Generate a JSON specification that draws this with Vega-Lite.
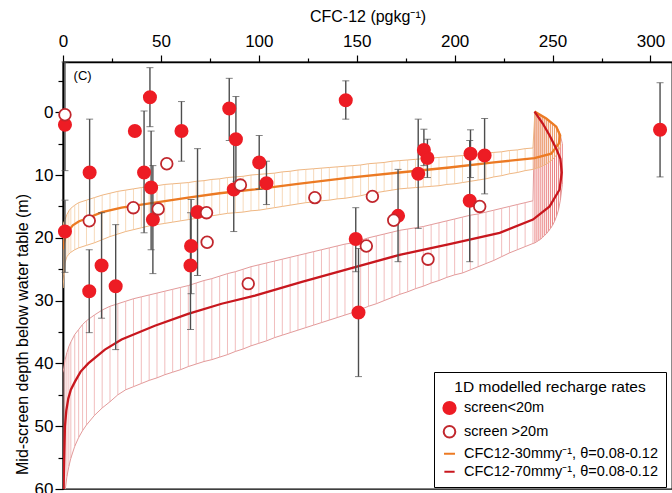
{
"$schema": "https://vega.github.io/schema/vega-lite/v6.json",
"width": 609, "height": 427,
"autosize": {"type": "none"},
"padding": {"left": 63, "top": 62, "right": 0, "bottom": 4},
"config": {
  "font": "Liberation Sans",
  "view": {"stroke": "#000", "strokeWidth": 1.3},
  "legend": {"orient": "none", "legendX": 371, "legendY": 310, "padding": 8, "strokeColor": "#000", "fillColor": "#fff", "titleFontSize": 15.5, "titleFontWeight": "normal", "titleAnchor": "middle", "titleColor": "#000", "titleLimit": 400, "labelFontSize": 14.5, "labelColor": "#000", "symbolStrokeWidth": 2, "rowPadding": 3, "titlePadding": 5, "labelLimit": 300, "labelOffset": 7, "cornerRadius": 0}
},
"datasets": {
  "pts": [
    {"c":1.0,"depth":2.0,"series":"screen<20m","lo":-8,"hi":9.3},
    {"c":1.0,"depth":19.0,"series":"screen<20m","lo":14.0,"hi":25.5},
    {"c":13.6,"depth":9.6,"series":"screen<20m","lo":1.1,"hi":17.9},
    {"c":13.4,"depth":28.5,"series":"screen<20m","lo":21.9,"hi":35.1},
    {"c":19.7,"depth":24.4,"series":"screen<20m","lo":16.0,"hi":32.8},
    {"c":26.9,"depth":27.7,"series":"screen<20m","lo":17.9,"hi":37.8},
    {"c":36.7,"depth":3.0,"series":"screen<20m","lo":null,"hi":null},
    {"c":44.4,"depth":-2.4,"series":"screen<20m","lo":-7.1,"hi":2.3},
    {"c":60.5,"depth":3.0,"series":"screen<20m","lo":-1.7,"hi":7.8},
    {"c":84.9,"depth":-0.6,"series":"screen<20m","lo":-5.4,"hi":4.5},
    {"c":88.3,"depth":4.3,"series":"screen<20m","lo":-2.5,"hi":11.0},
    {"c":87.2,"depth":12.3,"series":"screen<20m","lo":4.0,"hi":19.0},
    {"c":41.4,"depth":9.6,"series":"screen<20m","lo":-0.2,"hi":19.2},
    {"c":45.0,"depth":12.0,"series":"screen<20m","lo":3.0,"hi":21.9},
    {"c":45.9,"depth":17.1,"series":"screen<20m","lo":8.5,"hi":25.7},
    {"c":68.7,"depth":15.9,"series":"screen<20m","lo":5.8,"hi":26.0},
    {"c":65.4,"depth":21.3,"series":"screen<20m","lo":13.9,"hi":28.9},
    {"c":65.1,"depth":24.4,"series":"screen<20m","lo":16.0,"hi":34.6},
    {"c":100.2,"depth":8.0,"series":"screen<20m","lo":3.7,"hi":12.3},
    {"c":103.9,"depth":11.3,"series":"screen<20m","lo":7.8,"hi":14.7},
    {"c":144.4,"depth":-1.9,"series":"screen<20m","lo":-5.0,"hi":1.1},
    {"c":149.5,"depth":20.2,"series":"screen<20m","lo":15.2,"hi":25.4},
    {"c":150.9,"depth":31.9,"series":"screen<20m","lo":21.7,"hi":42.1},
    {"c":171.1,"depth":16.5,"series":"screen<20m","lo":9.1,"hi":23.8},
    {"c":181.4,"depth":9.8,"series":"screen<20m","lo":1.1,"hi":18.5},
    {"c":184.3,"depth":6.0,"series":"screen<20m","lo":2.7,"hi":8.5},
    {"c":186.1,"depth":7.3,"series":"screen<20m","lo":4.3,"hi":10.4},
    {"c":208.1,"depth":6.6,"series":"screen<20m","lo":2.8,"hi":10.4},
    {"c":207.7,"depth":14.1,"series":"screen<20m","lo":4.5,"hi":23.8},
    {"c":215.3,"depth":6.9,"series":"screen<20m","lo":1.0,"hi":13.0},
    {"c":304.9,"depth":2.8,"series":"screen<20m","lo":-4.7,"hi":10.3},
    {"c":1.0,"depth":0.4,"series":"screen >20m","lo":null,"hi":null},
    {"c":13.4,"depth":17.3,"series":"screen >20m","lo":null,"hi":null},
    {"c":35.9,"depth":15.2,"series":"screen >20m","lo":null,"hi":null},
    {"c":48.6,"depth":15.4,"series":"screen >20m","lo":null,"hi":null},
    {"c":53.0,"depth":8.2,"series":"screen >20m","lo":null,"hi":null},
    {"c":73.3,"depth":16.0,"series":"screen >20m","lo":null,"hi":null},
    {"c":73.6,"depth":20.7,"series":"screen >20m","lo":null,"hi":null},
    {"c":90.6,"depth":11.6,"series":"screen >20m","lo":null,"hi":null},
    {"c":94.6,"depth":27.3,"series":"screen >20m","lo":null,"hi":null},
    {"c":128.6,"depth":13.6,"series":"screen >20m","lo":null,"hi":null},
    {"c":158.0,"depth":13.4,"series":"screen >20m","lo":null,"hi":null},
    {"c":168.9,"depth":17.2,"series":"screen >20m","lo":null,"hi":null},
    {"c":154.9,"depth":21.3,"series":"screen >20m","lo":null,"hi":null},
    {"c":186.4,"depth":23.4,"series":"screen >20m","lo":null,"hi":null},
    {"c":212.8,"depth":15.0,"series":"screen >20m","lo":null,"hi":null}
  ],
  "curves": [
    {"c":0,"depth":21.8,"series":"CFC12-30mmy⁻¹, θ=0.08-0.12"},
    {"c":0.5,"depth":20.8,"series":"CFC12-30mmy⁻¹, θ=0.08-0.12"},
    {"c":1.0,"depth":20.1,"series":"CFC12-30mmy⁻¹, θ=0.08-0.12"},
    {"c":2.5,"depth":19.0,"series":"CFC12-30mmy⁻¹, θ=0.08-0.12"},
    {"c":5,"depth":18.0,"series":"CFC12-30mmy⁻¹, θ=0.08-0.12"},
    {"c":8,"depth":17.4,"series":"CFC12-30mmy⁻¹, θ=0.08-0.12"},
    {"c":12.9,"depth":16.8,"series":"CFC12-30mmy⁻¹, θ=0.08-0.12"},
    {"c":20,"depth":15.9,"series":"CFC12-30mmy⁻¹, θ=0.08-0.12"},
    {"c":29.9,"depth":15.2,"series":"CFC12-30mmy⁻¹, θ=0.08-0.12"},
    {"c":46.9,"depth":14.4,"series":"CFC12-30mmy⁻¹, θ=0.08-0.12"},
    {"c":63.9,"depth":13.6,"series":"CFC12-30mmy⁻¹, θ=0.08-0.12"},
    {"c":80,"depth":12.9,"series":"CFC12-30mmy⁻¹, θ=0.08-0.12"},
    {"c":98,"depth":12.3,"series":"CFC12-30mmy⁻¹, θ=0.08-0.12"},
    {"c":120,"depth":11.4,"series":"CFC12-30mmy⁻¹, θ=0.08-0.12"},
    {"c":146.4,"depth":10.4,"series":"CFC12-30mmy⁻¹, θ=0.08-0.12"},
    {"c":171.9,"depth":9.6,"series":"CFC12-30mmy⁻¹, θ=0.08-0.12"},
    {"c":197.4,"depth":8.8,"series":"CFC12-30mmy⁻¹, θ=0.08-0.12"},
    {"c":220,"depth":8.0,"series":"CFC12-30mmy⁻¹, θ=0.08-0.12"},
    {"c":240.8,"depth":7.3,"series":"CFC12-30mmy⁻¹, θ=0.08-0.12"},
    {"c":249.3,"depth":6.6,"series":"CFC12-30mmy⁻¹, θ=0.08-0.12"},
    {"c":253.2,"depth":5.0,"series":"CFC12-30mmy⁻¹, θ=0.08-0.12"},
    {"c":253.9,"depth":3.7,"series":"CFC12-30mmy⁻¹, θ=0.08-0.12"},
    {"c":251.9,"depth":2.3,"series":"CFC12-30mmy⁻¹, θ=0.08-0.12"},
    {"c":246.8,"depth":1.0,"series":"CFC12-30mmy⁻¹, θ=0.08-0.12"},
    {"c":240.8,"depth":-0.1,"series":"CFC12-30mmy⁻¹, θ=0.08-0.12"},
    {"c":0.2,"depth":61,"series":"CFC12-70mmy⁻¹, θ=0.08-0.12"},
    {"c":1.0,"depth":50.0,"series":"CFC12-70mmy⁻¹, θ=0.08-0.12"},
    {"c":1.7,"depth":47.5,"series":"CFC12-70mmy⁻¹, θ=0.08-0.12"},
    {"c":2.7,"depth":45.6,"series":"CFC12-70mmy⁻¹, θ=0.08-0.12"},
    {"c":4,"depth":44.2,"series":"CFC12-70mmy⁻¹, θ=0.08-0.12"},
    {"c":6.1,"depth":42.9,"series":"CFC12-70mmy⁻¹, θ=0.08-0.12"},
    {"c":9,"depth":41.3,"series":"CFC12-70mmy⁻¹, θ=0.08-0.12"},
    {"c":12.9,"depth":40.0,"series":"CFC12-70mmy⁻¹, θ=0.08-0.12"},
    {"c":21.4,"depth":37.8,"series":"CFC12-70mmy⁻¹, θ=0.08-0.12"},
    {"c":29.9,"depth":36.2,"series":"CFC12-70mmy⁻¹, θ=0.08-0.12"},
    {"c":46.9,"depth":34.0,"series":"CFC12-70mmy⁻¹, θ=0.08-0.12"},
    {"c":63.9,"depth":32.1,"series":"CFC12-70mmy⁻¹, θ=0.08-0.12"},
    {"c":81,"depth":30.5,"series":"CFC12-70mmy⁻¹, θ=0.08-0.12"},
    {"c":98,"depth":29.2,"series":"CFC12-70mmy⁻¹, θ=0.08-0.12"},
    {"c":122,"depth":27.0,"series":"CFC12-70mmy⁻¹, θ=0.08-0.12"},
    {"c":146.4,"depth":24.9,"series":"CFC12-70mmy⁻¹, θ=0.08-0.12"},
    {"c":171.9,"depth":22.7,"series":"CFC12-70mmy⁻¹, θ=0.08-0.12"},
    {"c":197.4,"depth":21.0,"series":"CFC12-70mmy⁻¹, θ=0.08-0.12"},
    {"c":223,"depth":19.2,"series":"CFC12-70mmy⁻¹, θ=0.08-0.12"},
    {"c":240,"depth":17.1,"series":"CFC12-70mmy⁻¹, θ=0.08-0.12"},
    {"c":248.5,"depth":15.0,"series":"CFC12-70mmy⁻¹, θ=0.08-0.12"},
    {"c":253.6,"depth":12.3,"series":"CFC12-70mmy⁻¹, θ=0.08-0.12"},
    {"c":254.7,"depth":9.6,"series":"CFC12-70mmy⁻¹, θ=0.08-0.12"},
    {"c":254.0,"depth":7.4,"series":"CFC12-70mmy⁻¹, θ=0.08-0.12"},
    {"c":251.9,"depth":5.8,"series":"CFC12-70mmy⁻¹, θ=0.08-0.12"},
    {"c":248.5,"depth":3.7,"series":"CFC12-70mmy⁻¹, θ=0.08-0.12"},
    {"c":245.0,"depth":1.8,"series":"CFC12-70mmy⁻¹, θ=0.08-0.12"},
    {"c":240.8,"depth":-0.1,"series":"CFC12-70mmy⁻¹, θ=0.08-0.12"}
  ],
  "ob": [
    {"c":0,"top":18.0,"bot":28.0},{"c":0.5,"top":17.5,"bot":26.0},{"c":1,"top":17.1,"bot":24.0},{"c":2,"top":16.3,"bot":23.0},{"c":3,"top":15.7,"bot":22.6},{"c":4,"top":15.3,"bot":22.3},{"c":6,"top":14.8,"bot":21.9},{"c":8,"top":14.4,"bot":21.6},{"c":12,"top":14.0,"bot":21.2},{"c":16,"top":13.6,"bot":20.8},{"c":20,"top":13.2,"bot":20.3},{"c":24,"top":12.9,"bot":19.8},{"c":28,"top":12.6,"bot":19.4},{"c":32,"top":12.4,"bot":19.0},{"c":36,"top":12.2,"bot":18.7},{"c":40,"top":12.0,"bot":18.4},{"c":44,"top":11.8,"bot":18.1},{"c":48,"top":11.7,"bot":17.9},{"c":52,"top":11.5,"bot":17.7},{"c":56,"top":11.4,"bot":17.5},{"c":60,"top":11.3,"bot":17.3},{"c":64,"top":11.2,"bot":17.1},{"c":68,"top":11.0,"bot":16.9},{"c":72,"top":10.9,"bot":16.7},{"c":76,"top":10.7,"bot":16.5},{"c":80,"top":10.6,"bot":16.3},{"c":84,"top":10.4,"bot":16.1},{"c":88,"top":10.3,"bot":16.0},{"c":92,"top":10.2,"bot":15.9},{"c":96,"top":10.0,"bot":15.7},{"c":100,"top":9.9,"bot":15.6},{"c":104,"top":9.8,"bot":15.4},{"c":108,"top":9.7,"bot":15.2},{"c":112,"top":9.5,"bot":15.0},{"c":116,"top":9.4,"bot":14.8},{"c":120,"top":9.2,"bot":14.6},{"c":124,"top":9.1,"bot":14.4},{"c":128,"top":9.0,"bot":14.3},{"c":132,"top":8.9,"bot":14.1},{"c":136,"top":8.8,"bot":14.0},{"c":140,"top":8.7,"bot":13.8},{"c":144,"top":8.6,"bot":13.7},{"c":148,"top":8.5,"bot":13.5},{"c":152,"top":8.4,"bot":13.3},{"c":156,"top":8.2,"bot":13.0},{"c":160,"top":8.1,"bot":12.8},{"c":164,"top":8.0,"bot":12.6},{"c":168,"top":7.8,"bot":12.4},{"c":172,"top":7.7,"bot":12.2},{"c":176,"top":7.6,"bot":12.1},{"c":180,"top":7.5,"bot":12.0},{"c":184,"top":7.4,"bot":11.9},{"c":188,"top":7.3,"bot":11.8},{"c":192,"top":7.2,"bot":11.7},{"c":196,"top":7.1,"bot":11.5},{"c":200,"top":7.0,"bot":11.4},{"c":204,"top":6.9,"bot":11.2},{"c":208,"top":6.8,"bot":11.0},{"c":212,"top":6.7,"bot":10.8},{"c":216,"top":6.5,"bot":10.6},{"c":220,"top":6.4,"bot":10.3},{"c":224,"top":6.3,"bot":10.1},{"c":228,"top":6.1,"bot":9.8},{"c":232,"top":6.0,"bot":9.6},{"c":236,"top":5.8,"bot":9.3},{"c":240,"top":5.7,"bot":9.1},
    {"c":241,"top":0.0,"bot":9.0},{"c":242,"top":0.2,"bot":8.9},{"c":243,"top":0.4,"bot":8.8},{"c":244,"top":0.5,"bot":8.7},{"c":245,"top":0.7,"bot":8.5},{"c":246,"top":0.85,"bot":8.4},{"c":247,"top":1.05,"bot":8.2},{"c":248,"top":1.3,"bot":8.0},{"c":249,"top":1.55,"bot":7.8},{"c":250,"top":1.8,"bot":7.5},{"c":251,"top":2.05,"bot":7.2},{"c":252,"top":2.4,"bot":6.8},{"c":253,"top":2.9,"bot":6.2},{"c":254,"top":3.7,"bot":5.4}
  ],
  "rb": [
    {"c":0,"top":41.5,"bot":62},{"c":1,"top":39.5,"bot":60.5},{"c":2,"top":38.3,"bot":58.0},{"c":3,"top":37.3,"bot":56.4},{"c":4,"top":36.6,"bot":55.1},{"c":6,"top":35.4,"bot":53.2},{"c":8,"top":34.6,"bot":51.8},{"c":10,"top":33.8,"bot":50.7},{"c":12,"top":33.2,"bot":49.8},{"c":16,"top":32.3,"bot":48.3},{"c":20,"top":31.5,"bot":47.1},{"c":24,"top":30.9,"bot":46.1},{"c":28,"top":30.5,"bot":45.0},{"c":32,"top":30.1,"bot":44.2},{"c":36,"top":29.7,"bot":43.7},{"c":40,"top":29.4,"bot":43.2},{"c":44,"top":29.1,"bot":42.7},{"c":48,"top":28.8,"bot":42.3},{"c":52,"top":28.5,"bot":41.8},{"c":56,"top":28.2,"bot":41.4},{"c":60,"top":27.9,"bot":41.0},{"c":64,"top":27.6,"bot":40.5},{"c":68,"top":27.2,"bot":40.1},{"c":72,"top":26.8,"bot":39.7},{"c":76,"top":26.5,"bot":39.4},{"c":80,"top":26.1,"bot":39.0},{"c":84,"top":25.7,"bot":38.6},{"c":88,"top":25.4,"bot":38.1},{"c":92,"top":25.0,"bot":37.7},{"c":96,"top":24.6,"bot":37.2},{"c":100,"top":24.3,"bot":36.8},{"c":104,"top":24.0,"bot":36.4},{"c":108,"top":23.7,"bot":35.9},{"c":112,"top":23.4,"bot":35.5},{"c":116,"top":23.1,"bot":35.1},{"c":120,"top":22.8,"bot":34.7},{"c":124,"top":22.5,"bot":34.3},{"c":128,"top":22.2,"bot":33.9},{"c":132,"top":21.9,"bot":33.5},{"c":136,"top":21.6,"bot":33.1},{"c":140,"top":21.3,"bot":32.7},{"c":144,"top":21.0,"bot":32.3},{"c":148,"top":20.8,"bot":31.9},{"c":152,"top":20.4,"bot":31.4},{"c":156,"top":20.0,"bot":30.9},{"c":160,"top":19.7,"bot":30.5},{"c":164,"top":19.4,"bot":30.0},{"c":168,"top":19.1,"bot":29.5},{"c":172,"top":18.8,"bot":29.0},{"c":176,"top":18.6,"bot":28.6},{"c":180,"top":18.4,"bot":28.1},{"c":184,"top":18.2,"bot":27.7},{"c":188,"top":17.9,"bot":27.2},{"c":192,"top":17.6,"bot":26.8},{"c":196,"top":17.3,"bot":26.3},{"c":200,"top":17.0,"bot":25.9},{"c":204,"top":16.7,"bot":25.6},{"c":208,"top":16.4,"bot":25.1},{"c":212,"top":16.2,"bot":24.6},{"c":216,"top":15.9,"bot":24.1},{"c":220,"top":15.6,"bot":23.6},{"c":224,"top":15.3,"bot":23.0},{"c":228,"top":15.0,"bot":22.4},{"c":232,"top":14.7,"bot":21.9},{"c":236,"top":14.4,"bot":21.4},{"c":240,"top":14.1,"bot":20.9},
    {"c":241,"top":0.0,"bot":20.8},{"c":242,"top":0.2,"bot":20.6},{"c":243,"top":0.4,"bot":20.4},{"c":244,"top":0.5,"bot":20.2},{"c":245,"top":0.7,"bot":19.9},{"c":246,"top":0.85,"bot":19.6},{"c":247,"top":1.05,"bot":19.3},{"c":248,"top":1.3,"bot":18.9},{"c":249,"top":1.55,"bot":18.5},{"c":250,"top":1.8,"bot":18.0},{"c":251,"top":2.05,"bot":17.4},{"c":252,"top":2.4,"bot":16.6},{"c":253,"top":2.9,"bot":15.6},{"c":254,"top":3.7,"bot":14.0},{"c":255,"top":5.0,"bot":11.5}
  ]
},
"encoding": {
  "x": {"field": "c", "type": "quantitative",
    "scale": {"domain": [0, 311], "nice": false, "zero": false},
    "axis": {"orient": "top", "title": "CFC-12 (pgkg⁻¹)", "values": [0,25,50,75,100,125,150,175,200,225,250,275,300],
      "labelExpr": "datum.value % 50 === 0 ? datum.label : ''",
      "tickSize": {"condition": {"test": "datum.value % 50 === 0", "value": 7}, "value": 4},
      "labelFontSize": 17, "titleFontSize": 16, "labelPadding": 5, "titlePadding": 8, "grid": false,
      "domainColor": "#000", "tickColor": "#000", "labelColor": "#000", "titleColor": "#000", "titleFontWeight": "normal",
      "labelFlush": false, "labelOverlap": false, "domainWidth": 1.3, "tickWidth": 1.2}},
  "y": {"field": "top", "type": "quantitative",
    "title": "Mid-screen depth below water table (m)",
    "scale": {"domain": [-8, 60], "reverse": true, "nice": false, "zero": false},
    "axis": {"values": [-5,0,5,10,15,20,25,30,35,40,45,50,55,60],
      "labelExpr": "datum.value % 10 === 0 ? datum.label : ''",
      "tickSize": {"condition": {"test": "datum.value % 10 === 0", "value": 8}, "value": 5},
      "labelFontSize": 17, "titleFontSize": 16, "labelPadding": 2, "titleX": -33, "titleY": 272, "grid": false,
      "domainColor": "#000", "tickColor": "#000", "labelColor": "#000", "titleColor": "#000", "titleFontWeight": "normal",
      "labelFlush": false, "labelOverlap": false, "domainWidth": 1.8, "tickWidth": 1.2}}
},
"layer": [
  {"data": {"name": "rb"}, "mark": {"type": "rule", "strokeWidth": 0.8, "clip": true},
   "encoding": {
     "y2": {"field": "bot"},
     "color": {"condition": {"test": "datum.c > 240.5", "value": "#e46464"}, "value": "#eeadad"}}},
  {"data": {"name": "rb"}, "mark": {"type": "line", "strokeWidth": 1, "color": "#e39a9a", "clip": true},
   "encoding": {}},
  {"data": {"name": "rb"}, "mark": {"type": "line", "strokeWidth": 1, "color": "#e39a9a", "clip": true},
   "encoding": {"y": {"field": "bot", "type": "quantitative", "title": "Mid-screen depth below water table (m)"}}},
  {"data": {"name": "ob"}, "mark": {"type": "rule", "strokeWidth": 0.8, "clip": true},
   "encoding": {
     "y2": {"field": "bot"},
     "color": {"condition": {"test": "datum.c > 240.5", "value": "#eea868"}, "value": "#f4cfa8"}}},
  {"data": {"name": "ob"}, "mark": {"type": "line", "strokeWidth": 1, "color": "#efb783", "clip": true},
   "encoding": {}},
  {"data": {"name": "ob"}, "mark": {"type": "line", "strokeWidth": 1, "color": "#efb783", "clip": true},
   "encoding": {"y": {"field": "bot", "type": "quantitative", "title": "Mid-screen depth below water table (m)"}}},
  {"data": {"name": "curves"}, "mark": {"type": "line", "strokeWidth": 2.3, "clip": true},
   "encoding": {
     "y": {"field": "depth", "type": "quantitative", "title": "Mid-screen depth below water table (m)"},
     "order": {"field": "depth", "type": "quantitative"},
     "stroke": {"field": "series", "type": "nominal", "title": "1D modelled recharge rates",
       "scale": {"domain": ["screen<20m", "screen >20m", "CFC12-30mmy⁻¹, θ=0.08-0.12", "CFC12-70mmy⁻¹, θ=0.08-0.12"], "range": ["#ed1c24", "#c1272d", "#ec7a23", "#c8171e"]}}}},
  {"data": {"name": "pts"}, "transform": [{"filter": "isValid(datum.lo)"}],
   "mark": {"type": "errorbar", "ticks": {"size": 7, "strokeWidth": 1.2, "color": "#4d4d4d"}, "rule": {"strokeWidth": 1.4, "color": "#4d4d4d"}},
   "encoding": {"y": {"field": "lo", "type": "quantitative", "title": "Mid-screen depth below water table (m)"}, "y2": {"field": "hi"}}},
  {"data": {"name": "pts"}, "mark": {"type": "point", "opacity": 1, "strokeWidth": 1.8},
   "encoding": {
     "y": {"field": "depth", "type": "quantitative", "title": "Mid-screen depth below water table (m)"},
     "shape": {"field": "series", "type": "nominal", "title": "1D modelled recharge rates",
       "scale": {"domain": ["screen<20m", "screen >20m", "CFC12-30mmy⁻¹, θ=0.08-0.12", "CFC12-70mmy⁻¹, θ=0.08-0.12"], "range": ["circle", "circle", "stroke", "stroke"]}},
     "fill": {"field": "series", "type": "nominal", "title": "1D modelled recharge rates",
       "scale": {"domain": ["screen<20m", "screen >20m", "CFC12-30mmy⁻¹, θ=0.08-0.12", "CFC12-70mmy⁻¹, θ=0.08-0.12"], "range": ["#ed1c24", "#ffffff", "transparent", "transparent"]}},
     "stroke": {"field": "series", "type": "nominal", "title": "1D modelled recharge rates",
       "scale": {"domain": ["screen<20m", "screen >20m", "CFC12-30mmy⁻¹, θ=0.08-0.12", "CFC12-70mmy⁻¹, θ=0.08-0.12"], "range": ["#ed1c24", "#c1272d", "#ec7a23", "#c8171e"]}},
     "size": {"field": "series", "type": "nominal", "title": "1D modelled recharge rates",
       "scale": {"domain": ["screen<20m", "screen >20m", "CFC12-30mmy⁻¹, θ=0.08-0.12", "CFC12-70mmy⁻¹, θ=0.08-0.12"], "range": [150, 105, 2000, 2000]}}}},
  {"data": {"values": [{"label": "(C)", "c": 10, "depth": -5.7}]}, "mark": {"type": "text", "fontSize": 13, "align": "center", "baseline": "middle", "color": "#000"},
   "encoding": {"y": {"field": "depth", "type": "quantitative", "title": "Mid-screen depth below water table (m)"}, "text": {"field": "label"}}}
]
}
